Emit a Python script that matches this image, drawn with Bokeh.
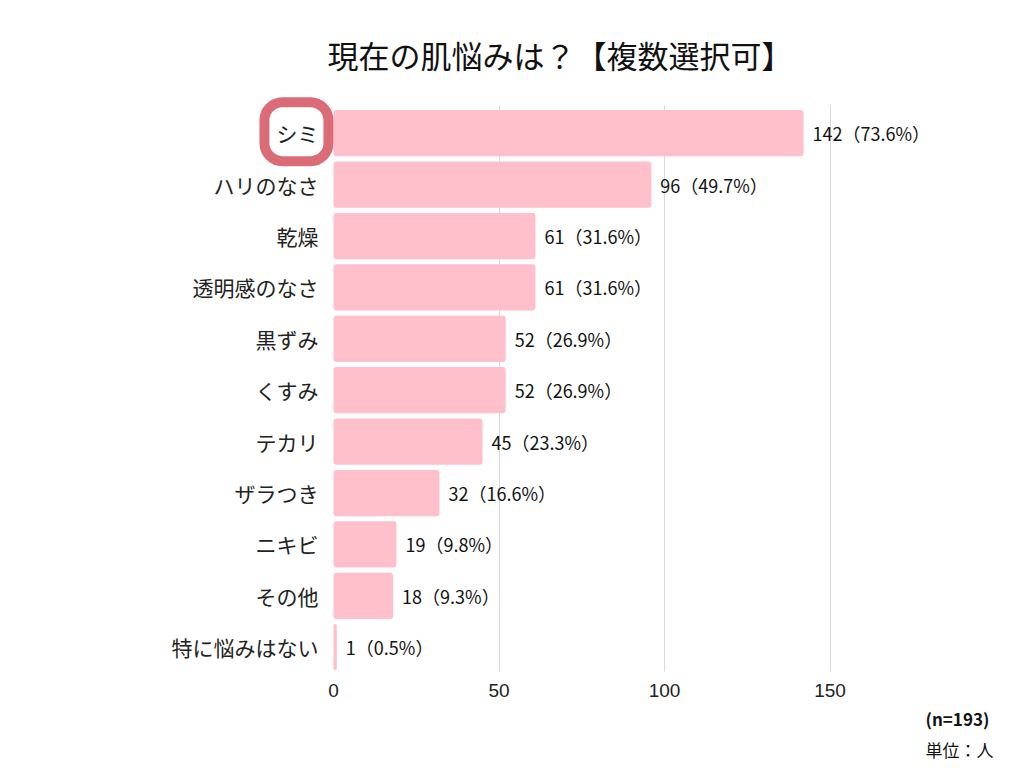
from bokeh.plotting import figure
from bokeh.models import Range1d, FixedTicker, Title, ColumnDataSource
from bokeh.core.properties import value
from bokeh.embed import file_html
from bokeh.resources import INLINE

categories = ["シミ", "ハリのなさ", "乾燥", "透明感のなさ", "黒ずみ", "くすみ",
              "テカリ", "ザラつき", "ニキビ", "その他", "特に悩みはない"]
counts = [142, 96, 61, 61, 52, 52, 45, 32, 19, 18, 1]
percents = ["73.6", "49.7", "31.6", "31.6", "26.9", "26.9", "23.3", "16.6", "9.8", "9.3", "0.5"]
x_ticks = [0, 50, 100, 150]
title_text = "現在の肌悩みは？【複数選択可】"
note_n = "(n=193)"
note_unit = "単位：人"
highlight_index = 0

JP = "Noto Sans CJK JP"

pos = list(range(len(categories)))
labels = [f"{c}（{p}%）" for c, p in zip(counts, percents)]
src = ColumnDataSource(dict(y=pos, cat=categories, cnt=counts, lab=labels,
                            zero=[0] * len(categories)))

W, H = 1008, 768
p = figure(width=W, height=H, output_backend="svg", toolbar_location=None,
           x_range=Range1d(-100.6, 203.9),
           y_range=Range1d(len(categories) - 1 + 0.492, -0.831),
           min_border_left=0, min_border_right=0, min_border_top=90,
           min_border_bottom=96, title=None)
p.yaxis.visible = False
p.outline_line_color = None
p.ygrid.grid_line_color = None
p.xgrid.ticker = FixedTicker(ticks=[50, 100, 150])
p.xgrid.grid_line_color = "#d9d9d9"
p.xgrid.grid_line_width = 1
p.xgrid.cross_bounds = (-0.53, len(categories) - 1 + 0.47)
p.xaxis.ticker = FixedTicker(ticks=x_ticks)
p.xaxis.axis_line_color = None
p.xaxis.major_tick_line_color = None
p.xaxis.minor_tick_line_color = None
p.xaxis.major_label_text_font = "Liberation Sans"
p.xaxis.major_label_text_font_size = "19px"
p.xaxis.major_label_text_color = "#222222"
p.xaxis.major_label_standoff = 5

p.hbar(y="y", left="zero", right="cnt", height=0.9, source=src,
       fill_color="#ffbfcb", line_color=None, border_radius=3)

p.text(x="cnt", y="y", text="lab", source=src, x_offset=9,
       text_font=value(JP), text_font_size="18px", text_color="#111111",
       text_align="left", text_baseline="middle")

# highlight box around first category
p.rect(x=[-11.2], y=[pos[highlight_index] - 0.03], width=64, height=59,
       width_units="screen", height_units="screen",
       fill_color="white", line_color="#dc6b78", line_width=10, border_radius=18)

p.text(x=[-4.5] * len(categories), y=pos, text=categories,
       text_font=value(JP), text_font_size="21px", text_color="#222222",
       text_align="right", text_baseline="middle")

p.add_layout(Title(text=title_text, align="left", offset=327, standoff=27,
                   text_font=JP, text_font_size="31px", text_font_style="normal",
                   text_color="#111111"), "above")
p.add_layout(Title(text=note_n, align="left", offset=925, standoff=8,
                   text_font=JP, text_font_size="17px", text_font_style="bold",
                   text_color="#111111"), "below")
p.add_layout(Title(text=note_unit, align="left", offset=925, standoff=0,
                   text_font=JP, text_font_size="17px", text_font_style="normal",
                   text_color="#111111"), "below")

open("out.html", "w").write(file_html(p, INLINE))
